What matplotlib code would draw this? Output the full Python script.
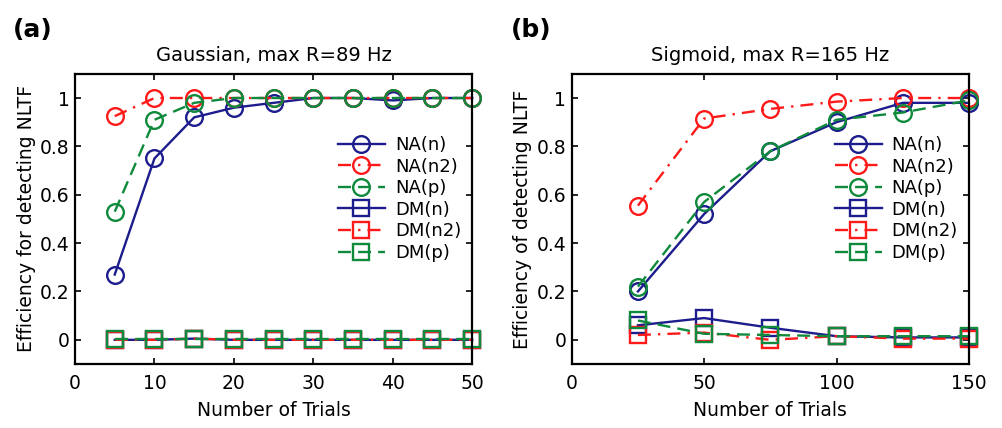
import matplotlib.pyplot as plt

plt.rcParams['font.family'] = ['DejaVu Sans']
plt.rcParams['font.size'] = 13
plt.rcParams['lines.dashed_pattern'] = [5.5, 3.0]
plt.rcParams['lines.dashdot_pattern'] = [5.5, 3.0, 1.0, 3.0]

# panel (a): Gaussian
trials_a = [5, 10, 15, 20, 25, 30, 35, 40, 45, 50]
na_n_a = [0.27, 0.75, 0.92, 0.96, 0.98, 1.0, 1.0, 0.99, 1.0, 1.0]
na_n2_a = [0.925, 1.0, 1.0, 1.0, 1.0, 1.0, 1.0, 1.0, 1.0, 1.0]
na_p_a = [0.53, 0.91, 0.98, 1.0, 1.0, 1.0, 1.0, 1.0, 1.0, 1.0]
dm_n_a = [0.0, 0.0, 0.005, 0.0, 0.0, 0.0, 0.0, 0.0, 0.0, 0.0]
dm_n2_a = [0.0, 0.0, 0.005, 0.0, 0.0, 0.0, 0.0, 0.0, 0.0, 0.0]
dm_p_a = [0.005, 0.005, 0.005, 0.005, 0.005, 0.005, 0.005, 0.005, 0.005, 0.005]

# panel (b): Sigmoid
trials_b = [25, 50, 75, 100, 125, 150]
na_n_b = [0.20, 0.52, 0.78, 0.90, 0.98, 0.98]
na_n2_b = [0.555, 0.915, 0.955, 0.985, 1.0, 1.0]
na_p_b = [0.22, 0.57, 0.78, 0.91, 0.94, 0.99]
dm_n_b = [0.06, 0.09, 0.05, 0.015, 0.01, 0.01]
dm_n2_b = [0.02, 0.03, 0.0, 0.015, 0.005, 0.005]
dm_p_b = [0.08, 0.025, 0.02, 0.015, 0.015, 0.015]

labels = ["NA(n)", "NA(n2)", "NA(p)", "DM(n)", "DM(n2)", "DM(p)"]
BLUE = "#1c1c8c"
RED = "#ff1a1a"
GREEN = "#0f8a3c"
styles = [
    (BLUE, "-", "o"), (RED, "-.", "o"), (GREEN, "--", "o"),
    (BLUE, "-", "s"), (RED, "-.", "s"), (GREEN, "--", "s"),
]


def draw_panel(ax, x, series, title, ylabel, xlim, xticks):
    for y, lab, (c, ls, m) in zip(series, labels, styles):
        ms = 12 if m == "o" else 11
        ax.plot(x, y, color=c, linestyle=ls, marker=m, markersize=ms,
                markerfacecolor="none", markeredgewidth=1.7, linewidth=1.7,
                label=lab, clip_on=False)
    ax.set_xlim(*xlim)
    ax.set_ylim(-0.1, 1.1)
    ax.set_xticks(xticks)
    ax.set_yticks([0, 0.2, 0.4, 0.6, 0.8, 1.0])
    ax.set_yticklabels(["0", "0.2", "0.4", "0.6", "0.8", "1"])
    ax.tick_params(direction="in", top=True, right=True, length=4, width=1.2,
                   labelsize=13.5)
    ax.tick_params(axis="x", pad=7)
    ax.tick_params(axis="y", pad=4)
    for s in ax.spines.values():
        s.set_linewidth(1.6)
    ax.set_title(title, fontsize=14, pad=9)
    ax.set_xlabel("Number of Trials", fontsize=13.5, labelpad=6)
    ax.set_ylabel(ylabel, fontsize=13.5, labelpad=3)
    ax.legend(loc="upper left", bbox_to_anchor=(0.662, 0.786), frameon=False,
              borderpad=0, borderaxespad=0, handlelength=2.6,
              handletextpad=0.55, labelspacing=0.2, fontsize=13)


fig = plt.figure(figsize=(10.03, 4.28), dpi=100)
ax1 = fig.add_axes([0.0748, 0.1495, 0.396, 0.678])
ax2 = fig.add_axes([0.570, 0.1495, 0.396, 0.678])

draw_panel(ax1, trials_a, [na_n_a, na_n2_a, na_p_a, dm_n_a, dm_n2_a, dm_p_a],
           "Gaussian, max R=89 Hz", "Efficiency for detecting NLTF",
           (0, 50), [0, 10, 20, 30, 40, 50])
draw_panel(ax2, trials_b, [na_n_b, na_n2_b, na_p_b, dm_n_b, dm_n2_b, dm_p_b],
           "Sigmoid, max R=165 Hz", "Efficiency of detecting NLTF",
           (0, 150), [0, 50, 100, 150])

fig.text(0.013, 0.93, "(a)", fontsize=18, fontweight="bold", va="center")
fig.text(0.509, 0.93, "(b)", fontsize=18, fontweight="bold", va="center")

fig.savefig("out.png", dpi=100)
